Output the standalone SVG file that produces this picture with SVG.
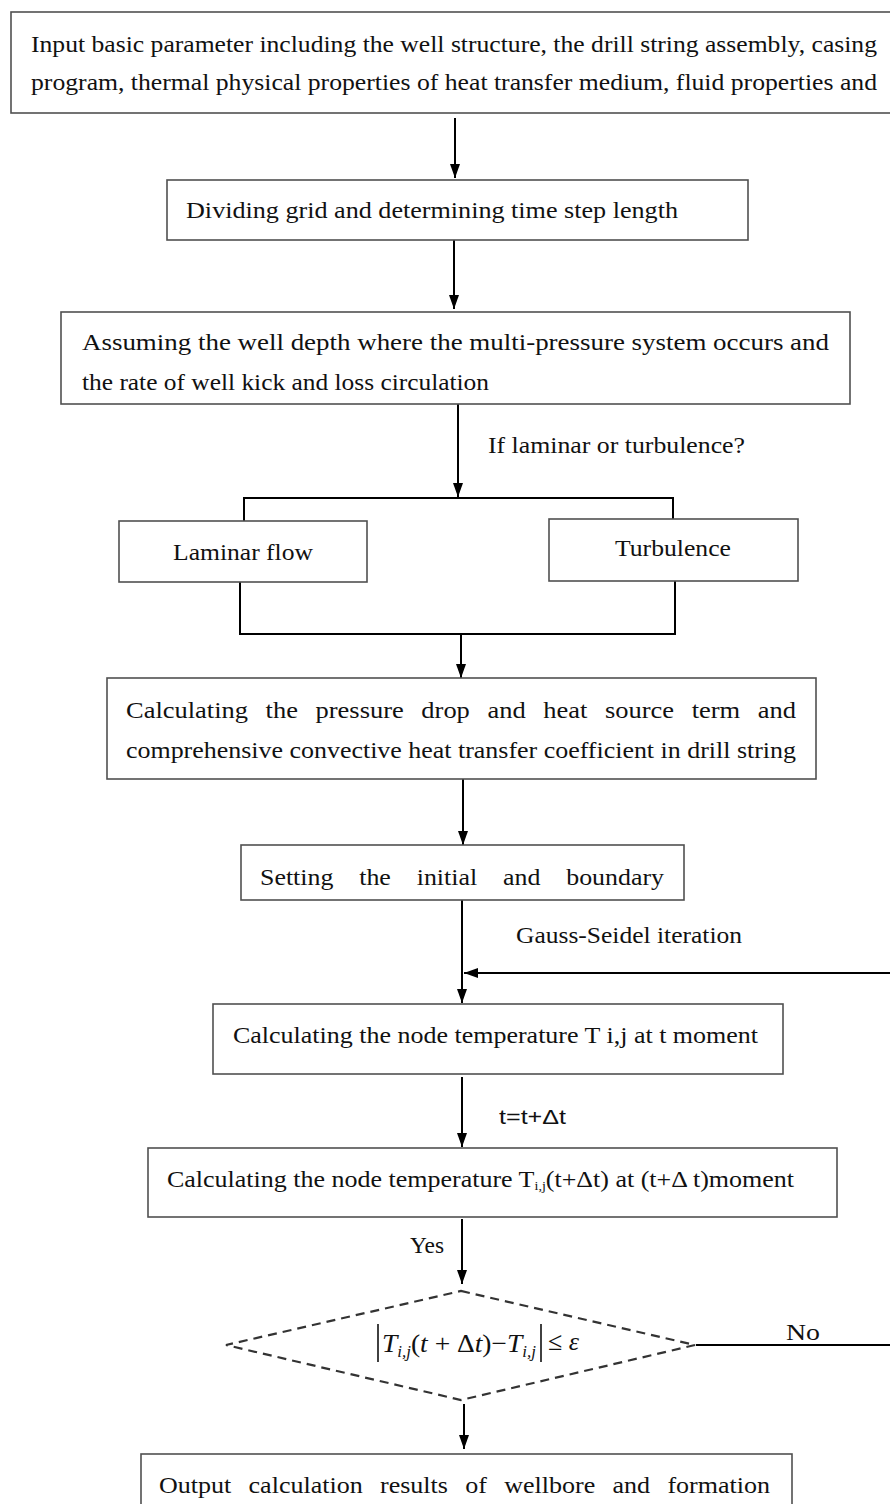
<svg xmlns="http://www.w3.org/2000/svg" width="890" height="1504" viewBox="0 0 890 1504">
<style>
.box{fill:#fff;stroke:#505050;stroke-width:1.6}
.t{font-family:"Liberation Serif","Times New Roman",serif;font-size:24px;fill:#111}
.s{font-family:"Liberation Sans",Arial,sans-serif;font-size:20px;fill:#111}
.m{font-family:"Liberation Serif","Times New Roman",serif;font-size:26px;fill:#111}
.ln{fill:none;stroke:#000;stroke-width:2}
.dash{fill:none;stroke:#333;stroke-width:2.2;stroke-dasharray:9 6}
</style>
<defs>
<marker id="ah" viewBox="0 0 14 10" markerWidth="14" markerHeight="10" refX="14" refY="5" orient="auto" markerUnits="userSpaceOnUse">
<path d="M0,0 L14,5 L0,10 z" fill="#000"/>
</marker>
</defs>
<rect width="890" height="1504" fill="#fff"/>

<g id="connectors">
<line class="ln" x1="455" y1="118" x2="455" y2="178" marker-end="url(#ah)"/>
<line class="ln" x1="454" y1="240" x2="454" y2="309" marker-end="url(#ah)"/>
<line class="ln" x1="458" y1="404" x2="458" y2="497" marker-end="url(#ah)"/>
<polyline class="ln" points="244,521 244,498 673,498 673,519"/>
<polyline class="ln" points="240,582 240,634 675,634 675,581"/>
<line class="ln" x1="461" y1="634" x2="461" y2="678" marker-end="url(#ah)"/>
<line class="ln" x1="463" y1="779" x2="463" y2="845" marker-end="url(#ah)"/>
<line class="ln" x1="462" y1="900" x2="462" y2="1003" marker-end="url(#ah)"/>
<line class="ln" x1="890" y1="973" x2="464" y2="973" marker-end="url(#ah)"/>
<line class="ln" x1="462" y1="1077" x2="462" y2="1147" marker-end="url(#ah)"/>
<line class="ln" x1="462" y1="1219" x2="462" y2="1284" marker-end="url(#ah)"/>
<line class="ln" x1="696" y1="1345" x2="890" y2="1345"/>
<line class="ln" x1="464" y1="1404" x2="464" y2="1449" marker-end="url(#ah)"/>
<text class="t" x="488" y="453" textLength="257" lengthAdjust="spacingAndGlyphs">If laminar or turbulence?</text>
<text class="t" x="516" y="943" textLength="226" lengthAdjust="spacingAndGlyphs">Gauss-Seidel iteration</text>
<text class="s" x="499" y="1124" textLength="67" lengthAdjust="spacingAndGlyphs">t=t+Δt</text>
<text class="t" x="410" y="1253" textLength="34" lengthAdjust="spacingAndGlyphs">Yes</text>
<text class="t" x="786" y="1340" textLength="34" lengthAdjust="spacingAndGlyphs">No</text>
</g>

<g id="input">
<rect class="box" x="11" y="12" width="890" height="101"/>
<text class="t" x="31" y="52" textLength="846" lengthAdjust="spacingAndGlyphs">Input basic parameter including the well structure, the drill string assembly, casing</text>
<text class="t" x="31" y="90" textLength="846" lengthAdjust="spacingAndGlyphs">program, thermal physical properties of heat transfer medium, fluid properties and</text>
</g>

<g id="grid">
<rect class="box" x="167" y="180" width="581" height="60"/>
<text class="t" x="186" y="218" textLength="492" lengthAdjust="spacingAndGlyphs">Dividing grid and determining time step length</text>
</g>

<g id="assume">
<rect class="box" x="61" y="312" width="789" height="92"/>
<text class="t" x="82" y="350" textLength="747" lengthAdjust="spacingAndGlyphs">Assuming the well depth where the multi-pressure system occurs and</text>
<text class="t" x="82" y="390" textLength="407" lengthAdjust="spacingAndGlyphs">the rate of well kick and loss circulation</text>
</g>

<g id="laminar">
<rect class="box" x="119" y="521" width="248" height="61"/>
<text class="t" x="173" y="560" textLength="140" lengthAdjust="spacingAndGlyphs">Laminar flow</text>
</g>

<g id="turbulence">
<rect class="box" x="549" y="519" width="249" height="62"/>
<text class="t" x="615" y="556" textLength="116" lengthAdjust="spacingAndGlyphs">Turbulence</text>
</g>

<g id="pressure">
<rect class="box" x="107" y="678" width="709" height="101"/>
<text class="t" x="126" y="718" word-spacing="10" textLength="670" lengthAdjust="spacingAndGlyphs">Calculating the pressure drop and heat source term and</text>
<text class="t" x="126" y="758" textLength="670" lengthAdjust="spacingAndGlyphs">comprehensive convective heat transfer coefficient in drill string</text>
</g>

<g id="setting">
<rect class="box" x="241" y="845" width="443" height="55"/>
<text class="t" x="260" y="885" word-spacing="18" textLength="404" lengthAdjust="spacingAndGlyphs">Setting the initial and boundary</text>
</g>

<g id="node-t">
<rect class="box" x="213" y="1004" width="570" height="70"/>
<text class="t" x="233" y="1043" textLength="525" lengthAdjust="spacingAndGlyphs">Calculating the node temperature T i,j at t moment</text>
</g>

<g id="node-tdt">
<rect class="box" x="148" y="1148" width="689" height="69"/>
<text class="t" x="167" y="1187" textLength="627" lengthAdjust="spacingAndGlyphs">Calculating the node temperature T<tspan font-size="13" dy="3">i,j</tspan><tspan dy="-3">(t+Δt) at (t+Δ t)moment</tspan></text>
</g>

<g id="check">
<polygon class="dash" points="461,1291 695,1345 461,1400 226,1345"/>
<line x1="378" y1="1324" x2="378" y2="1362" stroke="#111" stroke-width="1.6"/>
<line x1="541" y1="1324" x2="541" y2="1362" stroke="#111" stroke-width="1.6"/>
<text class="m" x="382" y="1352" textLength="154" lengthAdjust="spacingAndGlyphs"><tspan font-style="italic">T</tspan><tspan font-style="italic" font-size="16" dy="5">i,j</tspan><tspan dy="-5">(</tspan><tspan font-style="italic">t</tspan> + Δ<tspan font-style="italic">t</tspan>)−<tspan font-style="italic">T</tspan><tspan font-style="italic" font-size="16" dy="5">i,j</tspan></text>
<text class="m" x="548" y="1350">≤ <tspan font-style="italic">ε</tspan></text>
</g>

<g id="output">
<rect class="box" x="141" y="1454" width="651" height="70"/>
<text class="t" x="159" y="1493" word-spacing="10" textLength="611" lengthAdjust="spacingAndGlyphs">Output calculation results of wellbore and formation</text>
</g>
</svg>
